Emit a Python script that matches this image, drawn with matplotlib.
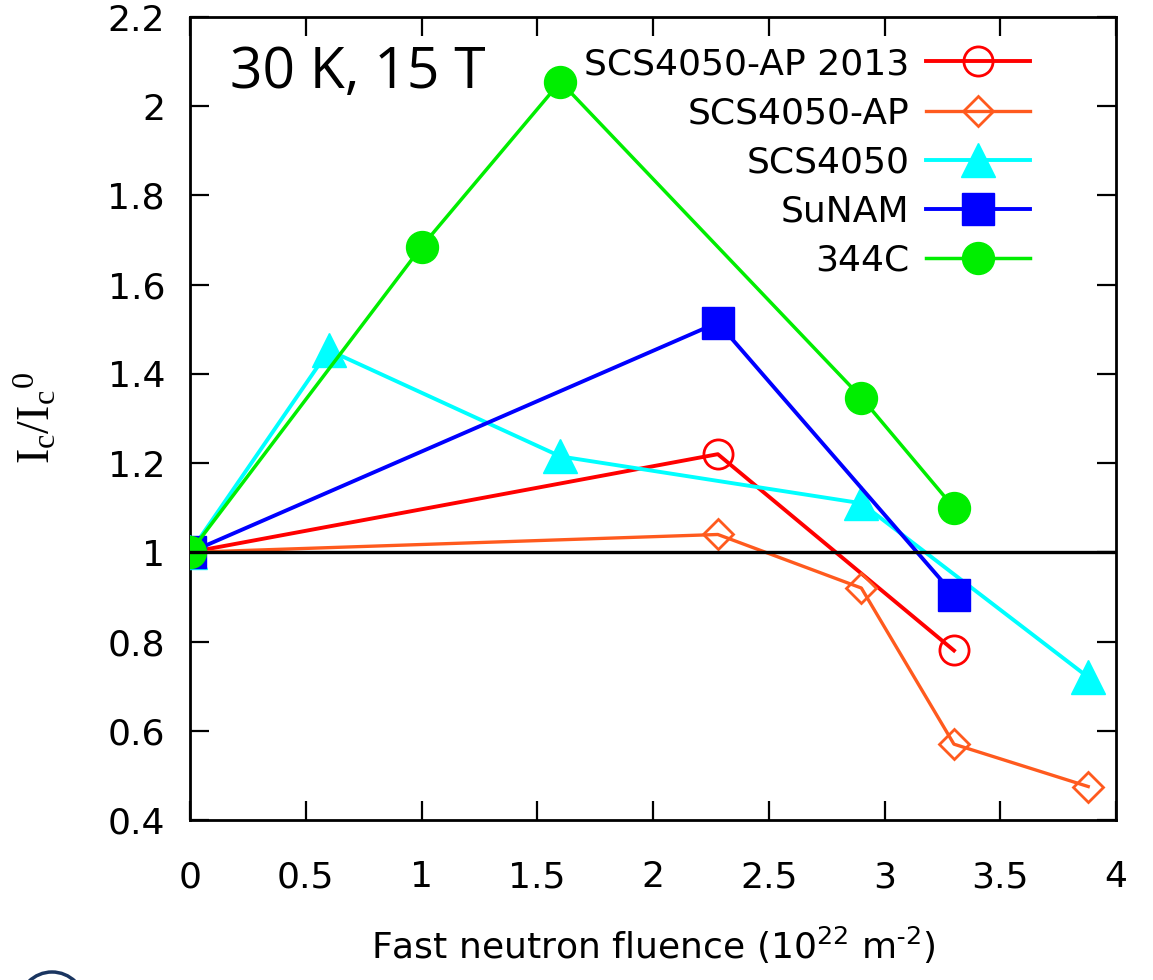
import matplotlib
matplotlib.use("Agg")
import matplotlib.pyplot as plt
from matplotlib.patches import Arc

plt.rcParams['font.family'] = ['DejaVu Sans']
plt.rcParams['mathtext.fontset'] = 'custom'
plt.rcParams['mathtext.rm'] = 'Liberation Serif'
plt.rcParams['mathtext.it'] = 'Liberation Serif:italic'
plt.rcParams['mathtext.default'] = 'regular'

# ---- data ----
ap2013_x = [0.0, 2.28, 3.30]
ap2013_y = [1.00, 1.22, 0.78]

ap_x = [0.0, 2.28, 2.90, 3.30, 3.88]
ap_y = [1.00, 1.04, 0.92, 0.57, 0.475]

scs_x = [0.0, 0.60, 1.60, 2.90, 3.88]
scs_y = [1.00, 1.453, 1.215, 1.11, 0.72]

sunam_x = [0.0, 2.28, 3.30]
sunam_y = [1.00, 1.515, 0.905]

c344_x = [0.0, 1.00, 1.60, 2.90, 3.30]
c344_y = [1.00, 1.685, 2.055, 1.347, 1.10]

labels = ["SCS4050-AP 2013", "SCS4050-AP", "SCS4050", "SuNAM", "344C"]
xticks = [0, 0.5, 1, 1.5, 2, 2.5, 3, 3.5, 4]
xticklabels = ["0", "0.5", "1", "1.5", "2", "2.5", "3", "3.5", "4"]
yticks = [0.4, 0.6, 0.8, 1.0, 1.2, 1.4, 1.6, 1.8, 2.0, 2.2]
yticklabels = ["0.4", "0.6", "0.8", "1", "1.2", "1.4", "1.6", "1.8", "2", "2.2"]

W, H = 1153, 980
fig = plt.figure(figsize=(W / 100, H / 100), dpi=100)
ax = fig.add_axes([190 / W, 1 - 820 / H, (1116 - 190) / W, (820 - 17) / H])

lw = 2.8
ax.plot(ap2013_x, ap2013_y, color='#ff0000', lw=lw, marker='o', ms=21,
        mfc='none', mec='#ff0000', mew=2.0, label=labels[0], zorder=3)
ax.plot(ap_x, ap_y, color='#ff5a1e', lw=lw - 0.4, marker='D', ms=15,
        mfc='none', mec='#ff5a1e', mew=2.0, label=labels[1], zorder=3)
ax.plot(scs_x, scs_y, color='#00ffff', lw=lw, marker='^', ms=25,
        mfc='#00ffff', mec='#00ffff', label=labels[2], zorder=3)
ax.plot(sunam_x, sunam_y, color='#0000ff', lw=lw, marker='s', ms=23,
        mfc='#0000ff', mec='#0000ff', label=labels[3], zorder=3)
ax.plot(c344_x, c344_y, color='#00ee00', lw=lw - 0.3, marker='o', ms=23,
        mfc='#00ee00', mec='#00ee00', label=labels[4], zorder=3)

ax.axhline(1.0, color='black', lw=2.4, zorder=5)

ax.set_xlim(0, 4)
ax.set_ylim(0.4, 2.2)
ax.set_xticks(xticks)
ax.set_xticklabels(xticklabels)
ax.set_yticks(yticks)
ax.set_yticklabels(yticklabels)
ax.tick_params(direction='in', length=14, width=1.6, top=True, right=True,
               labelsize=26, colors='black')
ax.tick_params(axis='x', pad=29)
ax.tick_params(axis='y', pad=18)
for s in ax.spines.values():
    s.set_linewidth(2.0)

ax.set_xlabel(r'Fast neutron fluence (10$^{22}$ m$^{\text{-}2}$)', fontsize=26, labelpad=22)
ax.set_ylabel(r'$\mathrm{I_c/I_c{}^{0}}$', fontsize=33, labelpad=34)

leg = ax.legend(loc='upper right', bbox_to_anchor=(0.927, 0.985), markerfirst=False,
                frameon=False, fontsize=26, handlelength=2.9, handletextpad=0.45,
                labelspacing=0.42, borderpad=0.0)

ax.text(0.043, 0.965, '30 K, 15 T', transform=ax.transAxes, fontsize=41,
        family='Open Sans', ha='left', va='top')

# partial logo at the bottom-left corner
fig.add_artist(Arc((52 / W, 1 - 1005 / H), 66 / W, 66 / H, theta1=0, theta2=180,
                   color='#1a3560', lw=2.5, transform=fig.transFigure))

fig.savefig('out.png', dpi=100)
